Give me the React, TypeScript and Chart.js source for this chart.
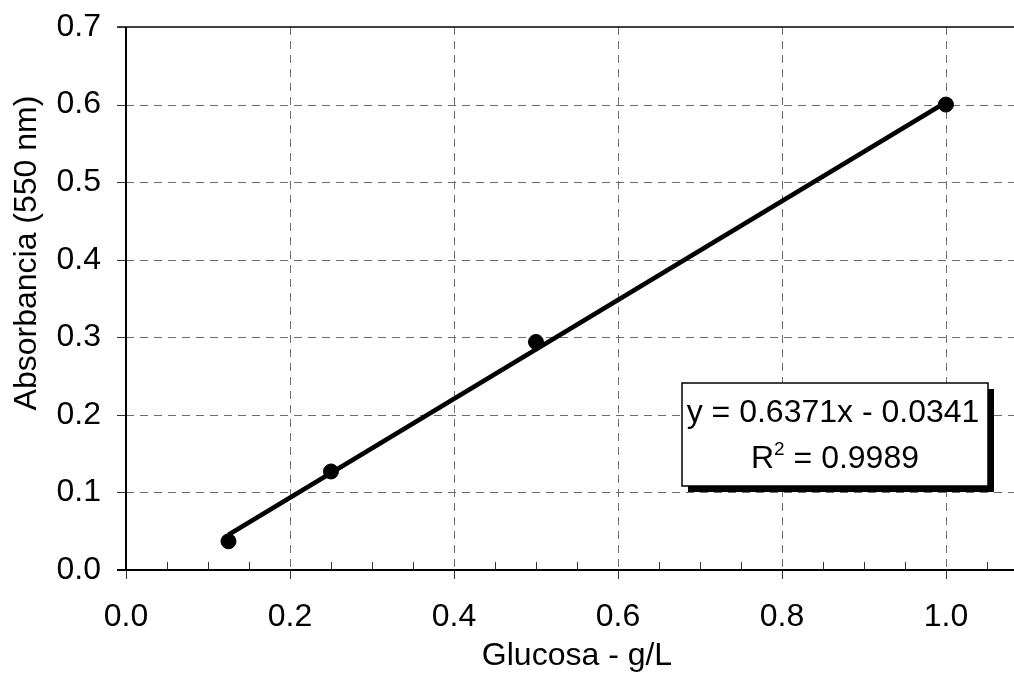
import React, { useEffect, useRef } from "react";
import { Chart, registerables } from "chart.js";

Chart.register(...registerables);

// ---- Data ----
const glucosa: number[] = [0.125, 0.25, 0.5, 1.0];
const absorbancia: number[] = [0.037, 0.127, 0.294, 0.6];
// Trend line endpoints (linear fit shown in the box)
const trendX: number[] = [0.125, 1.0];
const trendY: number[] = [0.0455, 0.603];
const xTicks: number[] = [0, 0.2, 0.4, 0.6, 0.8, 1.0];
const yTicks: number[] = [0, 0.1, 0.2, 0.3, 0.4, 0.5, 0.6, 0.7];
const equationText = "y = 0.6371x - 0.0341";
const r2Value = "0.9989";
const xTitle = "Glucosa - g/L";
const yTitle = "Absorbancia (550 nm)";

const X_MIN = 0;
const X_MAX = 1.083;
const Y_MIN = 0;
const Y_MAX = 0.7;
const X_MINOR_STEP = 0.05;

const FONT_FAMILY = '"Liberation Sans", Arial, Helvetica, sans-serif';
const FONT_SIZE = 32;

const decorPlugin = {
  id: "decor",
  beforeDatasetsDraw(chart: any) {
    const { ctx, chartArea, scales } = chart;
    const xs = scales.x;
    const ys = scales.y;
    const { left, right, top, bottom } = chartArea;
    ctx.save();
    // dashed grid
    ctx.lineWidth = 1;
    ctx.strokeStyle = "#6e6e6e";
    ctx.setLineDash([8, 6]);
    yTicks.forEach((v) => {
      if (v === Y_MIN || v === Y_MAX) return;
      const y = Math.round(ys.getPixelForValue(v)) + 0.5;
      ctx.beginPath();
      ctx.moveTo(left, y);
      ctx.lineTo(right, y);
      ctx.stroke();
    });
    xTicks.forEach((v) => {
      if (v === X_MIN) return;
      const x = Math.round(xs.getPixelForValue(v)) + 0.5;
      ctx.beginPath();
      ctx.moveTo(x, top);
      ctx.lineTo(x, bottom);
      ctx.stroke();
    });
    ctx.setLineDash([]);
    // top border
    ctx.strokeStyle = "#000";
    ctx.lineWidth = 1.5;
    const yTop = ys.getPixelForValue(Y_MAX);
    ctx.beginPath();
    ctx.moveTo(left - 9, yTop);
    ctx.lineTo(right, yTop);
    ctx.stroke();
    // y ticks
    ctx.lineWidth = 1;
    ctx.strokeStyle = "#333";
    yTicks.forEach((v) => {
      const y = Math.round(ys.getPixelForValue(v)) + 0.5;
      ctx.beginPath();
      ctx.moveTo(left - 9, y);
      ctx.lineTo(left, y);
      ctx.stroke();
    });
    // x major ticks (below)
    xTicks.forEach((v) => {
      const x = Math.round(xs.getPixelForValue(v)) + 0.5;
      ctx.beginPath();
      ctx.moveTo(x, bottom);
      ctx.lineTo(x, bottom + 9);
      ctx.stroke();
    });
    // x minor ticks (above)
    for (let i = 1; i * X_MINOR_STEP <= X_MAX + 1e-9; i++) {
      const v = i * X_MINOR_STEP;
      if (Math.abs(v / 0.2 - Math.round(v / 0.2)) < 1e-6) continue;
      const x = Math.round(xs.getPixelForValue(v)) + 0.5;
      ctx.beginPath();
      ctx.moveTo(x, bottom - 8);
      ctx.lineTo(x, bottom);
      ctx.stroke();
    }
    // axes
    ctx.strokeStyle = "#000";
    ctx.lineWidth = 2;
    ctx.beginPath();
    ctx.moveTo(left, top);
    ctx.lineTo(left, bottom);
    ctx.stroke();
    ctx.beginPath();
    ctx.moveTo(left - 9, bottom);
    ctx.lineTo(right, bottom);
    ctx.stroke();

    // axis titles
    ctx.fillStyle = "#000";
    ctx.font = `${FONT_SIZE}px ${FONT_FAMILY}`;
    ctx.textAlign = "center";
    ctx.textBaseline = "alphabetic";
    ctx.fillText(xTitle, (left + right) / 2 + 7, 665);
    ctx.save();
    ctx.translate(36, 253);
    ctx.rotate(-Math.PI / 2);
    ctx.fillText(yTitle, 0, 0);
    ctx.restore();
    ctx.restore();
  },
  afterDraw(chart: any) {
    const { ctx } = chart;
    ctx.save();
    const bx = 682;
    const by = 383;
    const bw = 306;
    const bh = 103;
    // shadow
    ctx.fillStyle = "#000";
    ctx.fillRect(bx + 6, by + 6, bw, bh);
    ctx.fillStyle = "#fff";
    ctx.fillRect(bx, by, bw, bh);
    ctx.strokeStyle = "#000";
    ctx.lineWidth = 1.5;
    ctx.strokeRect(bx, by, bw, bh);
    const cx = bx + bw / 2;
    ctx.fillStyle = "#000";
    ctx.font = `${FONT_SIZE}px ${FONT_FAMILY}`;
    ctx.textBaseline = "alphabetic";
    ctx.textAlign = "center";
    ctx.fillText(equationText, cx - 2, 422);
    // R^2 line
    const partR = "R";
    const partRest = " = " + r2Value;
    const supFont = `19px ${FONT_FAMILY}`;
    ctx.font = `${FONT_SIZE}px ${FONT_FAMILY}`;
    const wR = ctx.measureText(partR).width;
    const wRest = ctx.measureText(partRest).width;
    ctx.font = supFont;
    const wSup = ctx.measureText("2").width;
    const total = wR + wSup + wRest;
    const x0 = cx - total / 2;
    ctx.textAlign = "left";
    ctx.font = `${FONT_SIZE}px ${FONT_FAMILY}`;
    ctx.fillText(partR, x0, 468);
    ctx.font = supFont;
    ctx.fillText("2", x0 + wR, 455);
    ctx.font = `${FONT_SIZE}px ${FONT_FAMILY}`;
    ctx.fillText(partRest, x0 + wR + wSup, 468);
    ctx.restore();
  },
};

export default function App() {
  const canvasRef = useRef<HTMLCanvasElement | null>(null);

  useEffect(() => {
    const canvas = canvasRef.current;
    if (!canvas) return;
    const chart = new Chart(canvas, {
      type: "scatter",
      data: {
        datasets: [
          {
            label: "Tendencia",
            data: trendX.map((x, i) => ({ x, y: trendY[i] })),
            showLine: true,
            borderColor: "#000",
            borderWidth: 4.5,
            pointRadius: 0,
            order: 2,
          },
          {
            label: "Absorbancia",
            data: glucosa.map((x, i) => ({ x, y: absorbancia[i] })),
            showLine: false,
            backgroundColor: "#000",
            borderColor: "#000",
            pointRadius: 7.5,
            pointHoverRadius: 7.5,
            order: 1,
          },
        ],
      },
      options: {
        responsive: false,
        animation: false,
        events: [],
        layout: { autoPadding: false, padding: { top: 27, right: 0, left: 0, bottom: 0 } },
        plugins: {
          legend: { display: false },
          tooltip: { enabled: false },
          title: { display: false },
        },
        scales: {
          x: {
            type: "linear",
            min: X_MIN,
            max: X_MAX,
            afterBuildTicks: (scale: any) => {
              scale.ticks = xTicks.map((v) => ({ value: v }));
            },
            afterFit: (scale: any) => {
              scale.height = 103;
              scale.paddingLeft = 0;
              scale.paddingRight = 0;
              scale.paddingTop = 0;
              scale.paddingBottom = 0;
            },
            grid: { display: false, drawTicks: false },
            border: { display: false },
            ticks: {
              padding: 28,
              color: "#000",
              font: { family: FONT_FAMILY, size: FONT_SIZE },
              maxRotation: 0,
              autoSkip: false,
              callback: (v: any) => Number(v).toFixed(1),
            },
          },
          y: {
            type: "linear",
            min: Y_MIN,
            max: Y_MAX,
            afterBuildTicks: (scale: any) => {
              scale.ticks = yTicks.map((v) => ({ value: v }));
            },
            afterFit: (scale: any) => {
              scale.width = 126;
              scale.paddingLeft = 0;
              scale.paddingRight = 0;
              scale.paddingTop = 0;
              scale.paddingBottom = 0;
            },
            grid: { display: false, drawTicks: false },
            border: { display: false },
            ticks: {
              padding: 25,
              color: "#000",
              font: { family: FONT_FAMILY, size: FONT_SIZE },
              autoSkip: false,
              callback: (v: any) => Number(v).toFixed(1),
            },
          },
        },
      },
      plugins: [decorPlugin],
    });
    return () => chart.destroy();
  }, []);

  return (
    <div
      style={{
        position: "fixed",
        left: 0,
        top: 0,
        width: 1014,
        height: 673,
        background: "#fff",
      }}
    >
      <canvas ref={canvasRef} width={1014} height={673} style={{ display: "block" }} />
    </div>
  );
}
